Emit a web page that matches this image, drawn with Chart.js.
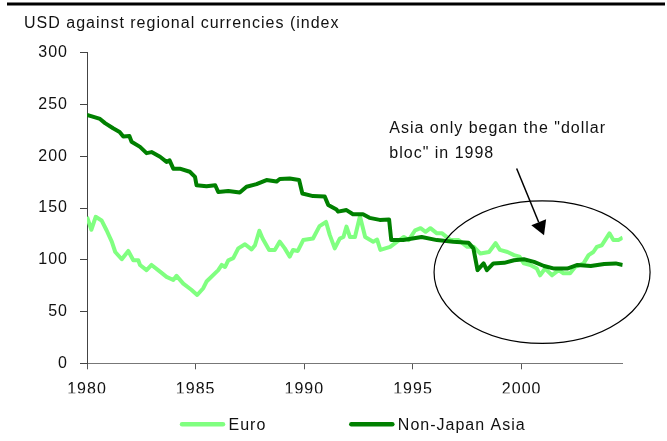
<!DOCTYPE html>
<html>
<head>
<meta charset="utf-8">
<script src="https://cdn.jsdelivr.net/npm/chart.js@4.4.1/dist/chart.umd.min.js"></script>
<style>
  html, body { margin: 0; padding: 0; background: #fff; }
  #wrap { width: 667px; height: 441px; }
</style>
</head>
<body>
<div id="wrap"><canvas id="myChart" width="667" height="441"></canvas></div>
<script>
// monthly-ish readings, decimal years
let euroYears = [1980.0, 1980.2, 1980.4, 1980.67, 1980.9, 1981.14, 1981.3, 1981.6, 1981.9, 1982.13,
  1982.36, 1982.44, 1982.74, 1982.97, 1983.36, 1983.66, 1983.97, 1984.12, 1984.43, 1984.8,
  1985.07, 1985.35, 1985.5, 1986.04, 1986.2, 1986.35, 1986.5, 1986.73, 1986.96, 1987.27,
  1987.57, 1987.73, 1987.93, 1988.08, 1988.38, 1988.64, 1988.87, 1989.1, 1989.33, 1989.48,
  1989.7, 1989.95, 1990.4, 1990.7, 1991.0, 1991.17, 1991.4, 1991.63, 1991.8, 1991.94,
  1992.1, 1992.33, 1992.56, 1992.8, 1993.17, 1993.35, 1993.5, 1993.95, 1994.27, 1994.58,
  1994.8, 1995.1, 1995.35, 1995.58, 1995.8, 1996.1, 1996.34, 1996.73, 1997.1, 1997.5,
  1997.8, 1998.1, 1998.5, 1998.8, 1999.0, 1999.35, 1999.65, 1999.9, 2000.1, 2000.4,
  2000.7, 2000.85, 2001.08, 2001.4, 2001.7, 2001.92, 2002.23, 2002.46, 2002.85, 2003.08,
  2003.3, 2003.46, 2003.69, 2003.84, 2004.04, 2004.22, 2004.45, 2004.65];
let euroValues = [141.5, 129, 141.5, 138, 128.5, 117.5, 107.5, 100.5, 108.5, 99.5,
  99.5, 95, 90, 95, 88.5, 83.5, 80.5, 84.5, 77, 71,
  66, 72.5, 79, 90, 95, 93, 99.5, 101.5, 111, 115,
  110, 114, 128, 120.5, 109.5, 109.5, 117.5, 111, 103, 109.5,
  108.5, 119, 120.5, 132.5, 136.5, 124, 111, 120.5, 122, 132,
  122, 122, 142, 122, 117.5, 119.5, 109.5, 112.5, 117.5, 122,
  119, 128.5, 130.5, 127, 130.5, 125.5, 125.5, 119, 119, 112.5,
  112.5, 106, 107.5, 116, 109.5, 107.5, 104.5, 103, 96.5, 95,
  91.5, 85, 91.5, 85, 90, 87, 87, 93, 96.5, 104.5,
  107.5, 112.5, 114, 119, 125.5, 119, 119, 121.5];

let asiaYears = [1980.0, 1980.3, 1980.6, 1980.83, 1981.2, 1981.5, 1981.67, 1981.95, 1982.05, 1982.44,
  1982.74, 1982.97, 1983.36, 1983.66, 1983.8, 1983.97, 1984.27, 1984.73, 1984.97, 1985.04,
  1985.5, 1985.9, 1986.04, 1986.5, 1987.03, 1987.34, 1987.8, 1988.26, 1988.72, 1988.87,
  1989.33, 1989.76, 1989.91, 1990.4, 1990.94, 1991.1, 1991.48, 1991.55, 1991.94, 1992.24,
  1992.7, 1993.0, 1993.47, 1993.9, 1994.0, 1994.55, 1995.4, 1996.1, 1996.85, 1997.55,
  1997.78, 1997.97, 1998.25, 1998.4, 1998.7, 1999.2, 1999.65, 2000.1, 2000.57, 2001.03,
  2001.5, 2002.1, 2002.57, 2003.18, 2003.8, 2004.33, 2004.65];
let asiaValues = [240, 238, 236, 232, 227, 223.5, 219, 219.5, 214, 209,
  203, 204, 199.5, 194.5, 196, 188, 188, 185, 180, 172,
  171, 172, 165.5, 166.5, 165, 170.5, 173, 177, 175.5, 178,
  178.5, 177, 164, 161.5, 161, 153, 148.5, 146.5, 148, 144,
  144, 140.5, 138.5, 139, 119, 119, 122, 119, 117.5, 116.5,
  111, 90, 96.5, 90, 96.5, 97, 99.5, 100.5, 98, 94,
  91.5, 91.5, 95, 94, 96, 96.5, 95];

let seriesNames = ['Euro', 'Non-Japan Asia'];
let seriesColors = ['#80FF80', '#008000'];
let yTicks = [0, 300, 50];       // min, max, step
let xTicks = [1980, 2004.65, 5]; // min, max, step

let chartTitle = 'USD against regional currencies (index';
let noteLines = ['Asia only began the "dollar', 'bloc" in 1998'];

const FONT = '"Liberation Sans", Arial, sans-serif';

function pts(xs, ys) {
  return xs.map((x, i) => ({ x: x, y: ys[i] }));
}

const decor = {
  id: 'decor',
  beforeDraw(chart) {
    chart.ctx.letterSpacing = '1px';
  },
  afterDraw(chart) {
    const ctx = chart.ctx;
    const xs = chart.scales.x, ys = chart.scales.y;
    const area = chart.chartArea;
    ctx.save();

    // rule at the top
    ctx.fillStyle = '#000';
    ctx.fillRect(7, 2.5, 658, 3);

    // ellipse round the 1998-2004 part
    const cx = xs.getPixelForValue(2000.94), cy = ys.getPixelForValue(88);
    const rx = xs.getPixelForValue(2000.94 + 4.97) - cx;
    const ry = cy - ys.getPixelForValue(88 + 68.8);
    ctx.strokeStyle = '#000';
    ctx.lineWidth = 1.2;
    ctx.beginPath();
    ctx.ellipse(cx, cy, rx, ry, 0, 0, Math.PI * 2);
    ctx.stroke();

    // arrow
    const x0 = xs.getPixelForValue(1999.77), y0 = ys.getPixelForValue(188.2);
    const x1 = xs.getPixelForValue(2001.03), y1 = ys.getPixelForValue(123.8);
    const len = Math.hypot(x1 - x0, y1 - y0);
    const ux = (x1 - x0) / len, uy = (y1 - y0) / len;
    const bx = x1 - ux * 14, by = y1 - uy * 14;
    ctx.lineWidth = 1.5;
    ctx.beginPath();
    ctx.moveTo(x0, y0);
    ctx.lineTo(bx, by);
    ctx.stroke();
    ctx.fillStyle = '#000';
    ctx.beginPath();
    ctx.moveTo(x1, y1);
    ctx.lineTo(bx - uy * 8, by + ux * 8);
    ctx.lineTo(bx + uy * 8, by - ux * 8);
    ctx.closePath();
    ctx.fill();

    // note text
    ctx.font = '16px ' + FONT;
    ctx.fillStyle = '#111';
    ctx.textAlign = 'left';
    ctx.textBaseline = 'alphabetic';
    const tx = xs.getPixelForValue(1993.91), ty = ys.getPixelForValue(222.7);
    noteLines.forEach((t, i) => ctx.fillText(t, tx, ty + i * 25));

    // legend
    const lineLen = 45, gap = 3.5, between = 83;
    const w = chart.data.datasets.map(d => ctx.measureText(d.label).width);
    const total = w.reduce((a, b) => a + b, 0) + 2 * (lineLen + gap) + between;
    let lx = (area.left + area.right) / 2 - 2 - total / 2;
    const ly = 424.3;
    ctx.textBaseline = 'middle';
    chart.data.datasets.forEach((d, i) => {
      ctx.strokeStyle = d.borderColor;
      ctx.lineWidth = 4.5;
      ctx.lineCap = 'round';
      ctx.beginPath();
      ctx.moveTo(lx + 2, ly);
      ctx.lineTo(lx + lineLen - 2, ly);
      ctx.stroke();
      ctx.fillText(d.label, lx + lineLen + gap, ly + 1);
      lx += lineLen + gap + w[i] + between;
    });
    ctx.restore();
  }
};

const tickFont = { family: FONT, size: 16 };

let chart1 = new Chart(document.getElementById('myChart').getContext('2d'), {
  type: 'line',
  data: {
    datasets: [{
      label: seriesNames[0],
      data: pts(euroYears, euroValues),
      borderColor: seriesColors[0],
      backgroundColor: seriesColors[0],
      borderWidth: 4,
      pointRadius: 0,
      tension: 0,
      borderJoinStyle: 'round',
      order: 1
    }, {
      label: seriesNames[1],
      data: pts(asiaYears, asiaValues),
      borderColor: seriesColors[1],
      backgroundColor: seriesColors[1],
      borderWidth: 4,
      pointRadius: 0,
      tension: 0,
      borderJoinStyle: 'round',
      order: 0
    }]
  },
  options: {
    responsive: false,
    animation: false,
    events: [],
    layout: { padding: { left: 24, right: 44.3, top: 0, bottom: 47.7 } },
    plugins: {
      legend: { display: false },
      tooltip: { enabled: false },
      title: {
        display: true,
        text: chartTitle,
        align: 'start',
        color: '#111',
        font: { family: FONT, size: 16, weight: 'normal' },
        padding: { top: 14.2, bottom: 19.3 }
      }
    },
    scales: {
      x: {
        type: 'linear',
        min: xTicks[0],
        max: xTicks[1],
        afterFit: s => { s.height = 30; },
        border: { color: '#777', width: 1 },
        grid: { drawOnChartArea: false, tickLength: 6, color: '#555' },
        ticks: {
          stepSize: xTicks[2],
          includeBounds: false,
          autoSkip: false,
          maxRotation: 0,
          padding: 11,
          color: '#111',
          font: tickFont,
          callback: v => String(v)
        }
      },
      y: {
        min: yTicks[0],
        max: yTicks[1],
        afterFit: s => { s.width = 63; },
        border: { color: '#444', width: 1 },
        grid: { drawOnChartArea: false, tickLength: 7, color: '#444' },
        ticks: {
          stepSize: yTicks[2],
          padding: 12,
          color: '#111',
          font: tickFont
        }
      }
    }
  },
  plugins: [decor]
});
</script>
</body>
</html>
